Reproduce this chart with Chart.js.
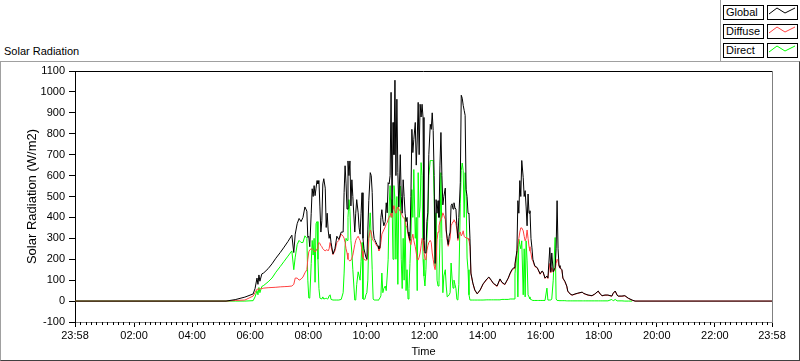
<!DOCTYPE html>
<html><head><meta charset="utf-8">
<script src="https://cdn.jsdelivr.net/npm/chart.js@4/dist/chart.umd.min.js"></script>
<style>
html,body{margin:0;padding:0;background:#fff;width:800px;height:361px;overflow:hidden;font-family:"Liberation Sans",Arial,sans-serif;font-size:11px;color:#000;}
#frame{position:absolute;left:0;top:61px;width:798px;height:298px;border-top:1px solid #a0a0a0;border-left:1px solid #a0a0a0;border-right:1px solid #404040;border-bottom:1px solid #404040;}
#legpanel{position:absolute;left:720px;top:0;width:80px;height:61px;border-left:1px solid #a0a0a0;box-sizing:border-box;}
#title{position:absolute;left:4px;top:45px;line-height:13px;white-space:nowrap;}
.lab{position:absolute;left:723px;width:41px;height:15px;border:1px solid #000;box-sizing:border-box;padding-left:2px;line-height:13px;background:#fff;white-space:nowrap;}
.sw{position:absolute;left:767px;width:31px;height:15px;border:1px solid #000;box-sizing:border-box;background:#fff;}
.sw svg{position:absolute;left:0;top:0;}
canvas{position:absolute;left:0;top:0;}
</style></head>
<body>
<div id="frame"></div>
<div id="legpanel"></div>
<div id="title">Solar Radiation</div>
<div id="legend"></div>
<canvas id="c" width="800" height="361"></canvas>
<script>
// time in minutes after midnight (start -2 = 23:58 previous day)
const times = [-2,310,329,349,366,370,374,376,378,380,384,388,397,405,413,422,430,438,446,450,453,457,461,465,469,473,477,479,481,483,486,488,490,492,494,496,498,500,502,504,506,508,510,512,515,517,519,521,523,525,527,531,535,539,543,548,552,554,556,558,560,562,564,566,568,570,572,576,578,580,583,585,587,589,591,593,595,597,599,601,603,605,608,610,612,614,616,618,620,622,624,626,628,630,632,634,636,639,641,643,645,647,649,651,653,655,657,659,661,663,665,667,670,672,674,676,678,680,682,684,686,688,690,692,694,696,698,701,703,705,707,709,711,713,715,717,719,721,723,725,727,729,732,734,736,738,740,742,744,746,748,750,752,754,756,758,760,763,765,767,769,771,773,775,777,779,781,783,785,787,789,791,794,796,798,800,802,804,806,808,810,812,814,816,820,824,829,835,841,849,853,858,862,870,876,880,886,893,897,901,905,907,911,913,915,917,919,921,924,926,928,930,932,934,936,938,940,942,944,948,953,955,959,963,965,969,973,975,979,981,983,986,990,992,994,996,998,1000,1004,1006,1010,1014,1016,1021,1025,1031,1037,1046,1048,1052,1058,1066,1072,1079,1083,1087,1093,1099,1107,1110,1114,1118,1120,1128,1134,1141,1149,1155,1438];
const globalW = [0,0,7,19,34,60,110,80,125,95,130,135,155,178,205,232,258,285,315,232,320,370,395,380,400,450,430,304,310,260,420,537,500,552,504,540,576,560,576,450,330,384,560,585,540,352,420,340,300,320,280,225,250,310,295,330,330,520,647,560,440,670,600,670,455,580,500,330,420,485,422,350,320,420,518,300,250,230,210,200,340,480,614,600,520,340,300,290,280,270,264,250,255,400,437,389,360,380,470,422,566,560,600,998,422,854,700,1056,600,965,614,450,700,500,420,580,500,420,380,400,330,310,290,500,821,710,773,854,650,770,950,700,941,880,941,878,293,230,230,380,422,700,845,821,900,816,600,180,485,420,480,400,650,806,600,460,500,540,340,300,270,310,330,456,465,440,470,446,440,360,300,400,566,984,970,936,912,888,533,500,420,418,300,134,86,53,35,53,82,106,115,100,86,72,106,90,80,110,134,152,160,178,240,480,420,576,500,672,590,500,528,450,360,512,420,432,300,255,200,168,160,150,130,144,140,110,120,110,256,140,230,140,160,250,480,250,170,160,150,110,95,72,48,34,29,34,38,43,38,34,29,26,34,48,34,26,29,29,24,38,48,29,24,24,26,14,5,0,0];
const diffuseW = [0,0,3,5,24,40,57,57,57,58,60,62,64,65,66,68,69,70,72,80,110,110,100,105,115,135,150,200,235,245,250,250,245,240,235,240,250,265,280,275,265,260,250,245,240,245,245,240,250,280,260,222,240,280,290,320,310,300,280,250,230,200,195,192,195,205,220,270,290,300,310,300,290,270,240,210,200,197,195,197,230,300,340,330,300,290,285,280,270,262,258,240,250,280,320,330,340,355,370,375,390,400,408,420,400,456,440,430,420,440,450,440,430,420,410,400,395,390,360,350,320,300,280,270,300,320,290,260,230,200,197,210,230,264,300,290,240,200,197,240,264,280,290,280,230,200,168,150,190,293,330,360,380,390,400,422,410,390,330,290,262,280,300,360,370,380,389,380,370,340,290,320,330,312,320,336,310,304,304,300,300,290,260,130,84,52,34,52,80,104,113,98,84,70,104,88,78,108,130,148,156,170,230,272,300,330,350,350,336,310,288,300,340,300,260,240,230,200,192,165,158,148,128,142,138,108,118,108,180,135,160,138,155,180,200,192,165,157,148,108,93,70,47,33,28,33,37,42,37,33,28,25,33,47,33,25,28,28,23,37,47,28,23,23,25,13,4,0,0];
const directW = [0,0,0,0,2,20,50,30,65,40,70,75,92,110,138,165,190,215,240,150,210,270,290,280,280,312,300,100,15,14,180,290,220,300,90,370,380,200,60,14,12,10,20,10,12,14,10,12,25,30,8,5,5,5,5,8,40,134,264,300,290,400,485,430,290,230,150,5,5,80,140,120,100,190,280,10,8,10,30,40,100,300,422,300,150,10,5,5,5,5,5,8,15,25,134,40,60,72,50,120,200,450,552,400,485,200,552,485,200,500,80,500,550,200,60,300,100,400,50,150,10,60,180,300,533,400,629,300,400,50,614,400,450,662,600,200,120,72,150,300,400,600,672,672,672,672,500,168,422,100,72,100,300,614,300,40,120,150,72,20,24,30,40,182,110,62,100,80,60,8,5,80,465,624,660,624,400,614,514,206,150,30,5,5,5,5,5,5,5,6,6,6,6,6,6,8,8,8,10,10,10,130,240,20,296,270,250,288,30,250,20,288,192,30,20,10,8,5,3,3,3,3,3,3,3,3,62,5,5,5,10,100,304,10,3,3,2,2,2,2,2,1,1,1,1,1,1,1,1,1,1,1,1,1,1,1,1,1,8,1,8,1,1,1,0,0,0];

const seriesNames = ['Global','Diffuse','Direct'];
const seriesColors = ['#000000','#ff4040','#00ff00'];
const yTickValues = [-100,0,100,200,300,400,500,600,700,800,900,1000,1100];
const xTickValues = [-2,120,240,360,480,600,720,840,960,1080,1200,1320,1438];
const xTickLabels = ['23:58','02:00','04:00','06:00','08:00','10:00','12:00','14:00','16:00','18:00','20:00','22:00','23:58'];

// HTML legend
const leg = document.getElementById('legend');
seriesNames.forEach((n,i)=>{
  const top = 5 + i*19;
  const l = document.createElement('div'); l.className='lab'; l.style.top = top+'px'; l.textContent = n; leg.appendChild(l);
  const s = document.createElement('div'); s.className='sw'; s.style.top = top+'px';
  s.innerHTML = '<svg width="29" height="13"><polyline points="1,8 9,2 17,7 27,2" fill="none" stroke="'+seriesColors[i]+'" stroke-width="1"/></svg>';
  leg.appendChild(s);
});

Chart.defaults.font.family = '"Liberation Sans", Arial, sans-serif';
Chart.defaults.font.size = 11;
Chart.defaults.color = '#000';

const decor = {
  id:'decor',
  afterDraw(chart){
    const ctx = chart.ctx, a = chart.chartArea, xs = chart.scales.x;
    ctx.save();
    ctx.lineWidth = 1;
    ctx.strokeStyle = '#000';
    ctx.beginPath();
    for (let i=0;i<xTickValues.length-1;i++){
      const v0 = xTickValues[i], v1 = xTickValues[i+1];
      for (let k=1;k<=10;k++){
        const px = Math.round(xs.getPixelForValue(v0+(v1-v0)*k/11))+0.5;
        ctx.moveTo(px, a.bottom); ctx.lineTo(px, a.bottom+3);
      }
    }
    ctx.stroke();
    ctx.beginPath();
    ctx.moveTo(a.left, Math.round(a.top)+0.5); ctx.lineTo(a.right, Math.round(a.top)+0.5);
    ctx.stroke();
    ctx.strokeStyle = '#808080';
    ctx.beginPath();
    ctx.moveTo(Math.round(a.right)+0.5, a.top); ctx.lineTo(Math.round(a.right)+0.5, a.bottom);
    ctx.stroke();
    ctx.restore();
  }
};

const mk = (arr)=>times.map((t,i)=>({x:t,y:arr[i]}));
new Chart(document.getElementById('c').getContext('2d'), {
  type:'line',
  data:{datasets:[
    {label:seriesNames[0], data:mk(globalW), borderColor:seriesColors[0], borderWidth:1, pointRadius:0, tension:0, fill:false},
    {label:seriesNames[1], data:mk(diffuseW), borderColor:seriesColors[1], borderWidth:1, pointRadius:0, tension:0, fill:false},
    {label:seriesNames[2], data:mk(directW), borderColor:seriesColors[2], borderWidth:1, pointRadius:0, tension:0, fill:false}
  ]},
  options:{
    responsive:false, animation:false, devicePixelRatio:1,
    layout:{padding:{top:71,right:28,left:0,bottom:0}},
    plugins:{legend:{display:false}, tooltip:{enabled:false}, title:{display:false}},
    scales:{
      x:{type:'linear', min:-2, max:1438,
        afterBuildTicks:(s)=>{ s.ticks = xTickValues.map(v=>({value:v})); },
        afterFit:(s)=>{ s.height = 39; },
        ticks:{autoSkip:false, maxRotation:0, minRotation:0, padding:2, callback:(v,i)=>xTickLabels[i]},
        grid:{display:true, drawOnChartArea:false, drawTicks:true, tickLength:5, color:'#000', tickColor:'#000'},
        border:{display:true, color:'#808080', width:1},
        title:{display:true, text:'Time', padding:{top:0,bottom:2}}
      },
      y:{type:'linear', min:-100, max:1100,
        afterBuildTicks:(s)=>{ s.ticks = yTickValues.map(v=>({value:v})); },
        afterFit:(s)=>{ s.width = 75; },
        ticks:{padding:4, callback:(v)=>String(v)},
        grid:{display:true, drawOnChartArea:false, drawTicks:true, tickLength:6, color:'#000', tickColor:'#000'},
        border:{display:true, color:'#000', width:1},
        title:{display:true, text:'Solar Radiation (W/m2)', font:{size:13}, padding:{top:25,bottom:0}}
      }
    }
  },
  plugins:[decor]
});
</script>
</body></html>
